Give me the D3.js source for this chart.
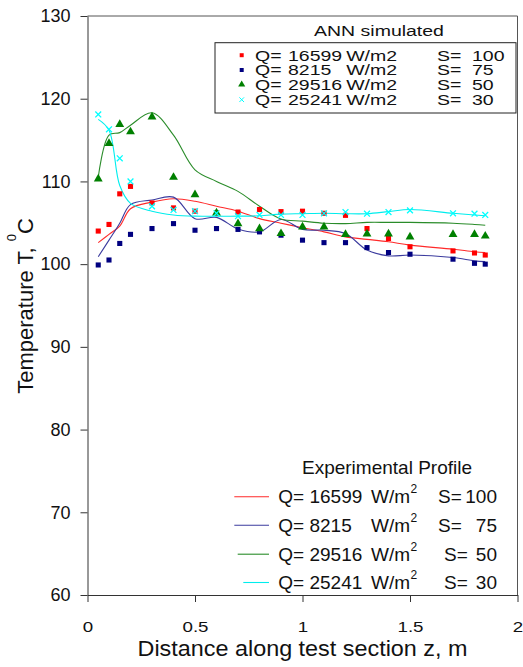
<!DOCTYPE html>
<html>
<head>
<meta charset="utf-8">
<script src="https://cdn.jsdelivr.net/npm/d3@7"></script>
<style>
  html, body { margin: 0; padding: 0; background: #fff; }
  svg { display: block; font-family: Arial, "Liberation Sans", sans-serif; }
</style>
</head>
<body>
<svg id="chart" width="523" height="667"></svg>
<script>
// Axial positions along the test section (m)
const zPositions = [0.05, 0.1, 0.15, 0.2, 0.3, 0.4, 0.5, 0.6, 0.7, 0.8,
                    0.9, 1.0, 1.1, 1.2, 1.3, 1.4, 1.5, 1.7, 1.8, 1.85];

// ANN simulated wall temperatures (°C), one list per S
const annS100 = [104.0, 104.8, 108.5, 109.4, 107.4, 106.8, 106.4, 106.2, 106.3, 106.6,
                 106.35, 106.4, 106.15, 105.9, 104.3, 103.1, 102.1, 101.6, 101.35, 101.1];
const annS75  = [99.9, 100.5, 102.5, 103.6, 104.3, 104.9, 104.1, 104.3, 104.2, 103.9,
                 103.5, 102.9, 102.6, 102.6, 102.0, 101.4, 101.2, 100.6, 100.1, 100.0];
const annS50  = [110.3, 114.6, 116.9, 116.0, 117.8, 110.5, 108.4, 106.2, 104.9, 104.3,
                 103.7, 104.5, 104.5, 103.6, 103.65, 103.65, 103.3, 103.6, 103.6, 103.4];
const annS30  = [118.1, 116.3, 112.8, 110.0, 107.0, 106.55, 106.4, 106.15, 105.8, 105.95,
                 105.95, 105.95, 106.15, 106.3, 106.1, 106.3, 106.5, 106.15, 106.1, 105.95];

// Experimental temperature profiles (°C)
const expS100 = [102.6, 103.6, 104.6, 106.7, 107.5, 107.9, 107.6, 107.0, 106.4, 105.5,
                 104.95, 104.4, 103.9, 103.3, 103.0, 102.7, 102.3, 101.8, 101.5, 101.4];
const expS75  = [100.9, 102.9, 104.95, 107.2, 107.75, 108.1, 105.5, 105.65, 104.25, 103.9,
                 105.4, 104.2, 104.1, 103.7, 101.7, 101.0, 101.1, 100.8, 100.4, 100.3];
const expS50  = [110.5, 115.6, 115.9, 116.8, 118.3, 115.6, 111.4, 110.0, 108.8, 107.0,
                 105.45, 105.2, 104.95, 104.9, 105.05, 105.05, 105.05, 104.95, 104.8, 104.7];
const expS30  = [117.5, 116.2, 109.5, 107.35, 106.4, 105.95, 105.8, 105.8, 105.8, 105.85,
                 106.05, 106.1, 106.15, 106.1, 106.1, 106.35, 106.6, 106.15, 105.95, 105.85];

// Legend labels
const heatFlux = ["16599", "8215", "29516", "25241"];
const sValues  = ["100", "75", "50", "30"];

// Axis ticks
const xTicks = [0, 0.5, 1, 1.5, 2];
const yTicks = [60, 70, 80, 90, 100, 110, 120, 130];

const colors = {
  markers: ["#ff0000", "#000080", "#008000", "#00ffff"],
  lines:   ["#ff2a2a", "#3b3b9e", "#2a8c2a", "#00eded"]
};

const svg = d3.select("#chart");
const plotLeft = 87.5, plotRight = 517.5, plotTop = 16, plotBottom = 595;

const x = d3.scaleLinear().domain([0, 2]).range([plotLeft, plotRight]);
const y = d3.scaleLinear().domain([60, 130]).range([plotBottom, plotTop]);

// Plot frame (top / right)
svg.append("path")
  .attr("d", `M${plotLeft},${plotTop}H${plotRight}V${plotBottom}`)
  .attr("fill", "none").attr("stroke", "#555").attr("stroke-width", 1);

// Y axis
const yAxis = svg.append("g")
  .attr("transform", `translate(${plotLeft},0)`)
  .call(d3.axisLeft(y).tickValues(yTicks).tickSize(7).tickPadding(10).tickSizeOuter(0));
yAxis.select(".domain").attr("stroke", "#333");
yAxis.selectAll(".tick line").attr("stroke", "#333");
yAxis.selectAll(".tick text")
  .attr("font-family", "Arial, 'Liberation Sans', sans-serif")
  .attr("font-size", 18).attr("fill", "#111");

// X axis
const xAxis = svg.append("g")
  .attr("transform", `translate(0,${plotBottom})`)
  .call(d3.axisBottom(x).tickValues(xTicks).tickFormat(d3.format("")).tickSize(7).tickSizeOuter(0));
xAxis.select(".domain").attr("stroke", "#333");
xAxis.selectAll(".tick line").attr("stroke", "#333");
xAxis.selectAll(".tick text")
  .attr("font-family", "Arial, 'Liberation Sans', sans-serif")
  .attr("font-size", 15).attr("fill", "#111")
  .attr("y", 37).attr("dy", 0)
  .attr("transform", "scale(1.25,1)");

// Axis titles
svg.append("text")
  .attr("x", 302.5).attr("y", 656)
  .attr("text-anchor", "middle")
  .attr("font-size", 22).attr("fill", "#111")
  .attr("textLength", 330).attr("lengthAdjust", "spacingAndGlyphs")
  .text("Distance along test section z, m");

const yTitle = svg.append("text")
  .attr("transform", "translate(33,306) rotate(-90)")
  .attr("text-anchor", "middle")
  .attr("font-size", 22).attr("fill", "#111");
yTitle.append("tspan").text("Temperature T, ");
yTitle.append("tspan").attr("font-size", 13).attr("dy", -17).text("0");
yTitle.append("tspan").attr("dy", 17).text("C");

// Experimental profiles (smoothed lines)
const expSeries = [expS100, expS75, expS50, expS30];
const line = d3.line()
  .x(d => x(d[0])).y(d => y(d[1]))
  .curve(d3.curveCatmullRom.alpha(0.5));

svg.append("g").selectAll("path")
  .data(expSeries)
  .join("path")
  .attr("d", s => line(zPositions.map((z, i) => [z, s[i]])))
  .attr("fill", "none")
  .attr("stroke", (s, i) => colors.lines[i])
  .attr("stroke-width", 1.1);

// ANN simulated points
const annSeries = [annS100, annS75, annS50, annS30];
const markerShapes = [d3.symbolSquare, d3.symbolSquare, d3.symbolTriangle, d3.symbolTimes];
const markerSizes = [26, 26, 34, 24];

annSeries.forEach((s, k) => {
  const sym = d3.symbol().type(markerShapes[k]).size(markerSizes[k]);
  svg.append("g").selectAll("path")
    .data(zPositions.map((z, i) => [z, s[i]]))
    .join("path")
    .attr("transform", d => `translate(${x(d[0])},${y(d[1])})`)
    .attr("d", sym)
    .attr("fill", k === 3 ? "none" : colors.markers[k])
    .attr("stroke", k === 3 ? colors.markers[k] : "none")
    .attr("stroke-width", 1.3);
});

// Legend: ANN simulated (boxed, wide lettering)
svg.append("rect")
  .attr("x", 215).attr("y", 42.7).attr("width", 301).attr("height", 70.3)
  .attr("fill", "#fff").attr("stroke", "#222").attr("stroke-width", 1);

const sx = 1.3;
svg.append("text")
  .attr("transform", `translate(379,36) scale(${sx},1)`)
  .attr("text-anchor", "middle")
  .attr("font-size", 15).attr("fill", "#111")
  .text("ANN simulated");

const annRowsY = [60.5, 75.3, 89.8, 105.0];
annRowsY.forEach((by, k) => {
  const sym = d3.symbol().type(markerShapes[k]).size(k === 2 ? 22 : 16);
  svg.append("path")
    .attr("transform", `translate(241.7,${by - 5.3})`)
    .attr("d", sym)
    .attr("fill", k === 3 ? "none" : colors.markers[k])
    .attr("stroke", k === 3 ? colors.markers[k] : "none")
    .attr("stroke-width", 1);
  const g = svg.append("g")
    .attr("transform", `translate(0,${by}) scale(${sx},1)`)
    .attr("font-size", 15).attr("fill", "#111");
  g.append("text").attr("x", 255 / sx).text("Q=");
  g.append("text").attr("x", 288 / sx).text(heatFlux[k]);
  g.append("text").attr("x", 397 / sx).attr("text-anchor", "end").text("W/m2");
  g.append("text").attr("x", 437 / sx).text("S=");
  g.append("text").attr("x", 472 / sx).text(sValues[k]);
});

// Legend: Experimental Profile
svg.append("text")
  .attr("x", 387).attr("y", 474)
  .attr("text-anchor", "middle")
  .attr("font-size", 19).attr("fill", "#111")
  .text("Experimental Profile");

const expRowsY = [503.3, 531.7, 560.7, 589];
const lineStarts = [234.3, 234.3, 237.7, 243.3];
const sStarts = [438, 438, 444, 444];
expRowsY.forEach((by, k) => {
  svg.append("line")
    .attr("x1", lineStarts[k]).attr("x2", 269)
    .attr("y1", by - 6.5).attr("y2", by - 6.5)
    .attr("stroke", colors.lines[k]).attr("stroke-width", 1.1);
  const g = svg.append("g").attr("font-size", 19).attr("fill", "#111");
  g.append("text").attr("x", 278.3).attr("y", by).text("Q= " + heatFlux[k]);
  g.append("text").attr("x", 410).attr("y", by).attr("text-anchor", "end").text("W/m");
  g.append("text").attr("x", 410.5).attr("y", by - 10).attr("font-size", 12).text("2");
  g.append("text").attr("x", sStarts[k]).attr("y", by).text("S=");
  g.append("text").attr("x", 497).attr("y", by).attr("text-anchor", "end").text(sValues[k]);
});
</script>
</body>
</html>
